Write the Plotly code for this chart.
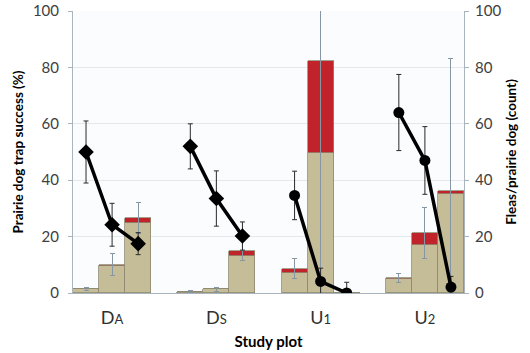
import plotly.graph_objects as go

# ---- data ----
plots = ["D<sub>A</sub>", "D<sub>S</sub>", "U<sub>1</sub>", "U<sub>2</sub>"]
plot_tick_labels = ["D<span style='font-size:13px'>A</span>", "D<span style='font-size:13px'>S</span>",
                    "U<span style='font-size:13px'>1</span>", "U<span style='font-size:13px'>2</span>"]
# slots: 3 time periods per plot, with a blank slot between plots
bar_slots = [0, 1, 2, 4, 5, 6, 8, 9, 10, 12, 13, 14]
label_slots = [1, 5, 9, 13]

# fleas per prairie dog (count): tan part and red part (stacked), error on total
fleas_tan = [1.3, 9.5, 24.9, 0.5, 1.3, 13.0, 7.2, 49.5, 0.0, 5.0, 17.2, 35.2]
fleas_red = [0.0, 0.6, 1.8, 0.0, 0.0, 2.0, 1.4, 32.7, 0.0, 0.3, 4.2, 1.0]
fleas_err = [0.5, 4.0, 5.5, 0.3, 0.6, 3.5, 3.6, 95.0, 0.0, 1.5, 9.0, 47.0]

# prairie dog trap success (%)
trap_DA = [50.0, 24.2, 17.5]
trap_DA_err = [11.0, 7.6, 3.9]
trap_DS = [52.0, 33.5, 20.2]
trap_DS_err = [8.0, 9.8, 5.0]
trap_U1 = [34.6, 4.1, 0.0]
trap_U1_err = [8.6, 4.7, 3.8]
trap_U2 = [64.0, 47.0, 2.1]
trap_U2_err = [13.5, 12.0, 3.8]

trap_series = [trap_DA, trap_DS, trap_U1, trap_U2]
trap_errs = [trap_DA_err, trap_DS_err, trap_U1_err, trap_U2_err]
markers = ["diamond", "diamond", "circle", "circle"]

TAN = "#C4BD97"
RED = "#C1232B"
font_family = "Lato, 'Open Sans', sans-serif"

fig = go.Figure()

fig.add_trace(go.Bar(
    x=bar_slots, y=fleas_tan, width=1, marker=dict(color=TAN, line=dict(color="#8f8a72", width=0.8)),
    yaxis="y", showlegend=False, name="Fleas"))
fig.add_trace(go.Bar(
    x=bar_slots, y=fleas_red, width=1, marker=dict(color=RED, line=dict(color="#8f8a72", width=0.8)),
    error_y=dict(type="data", array=fleas_err, color="#8796a3", thickness=1, width=2.5),
    yaxis="y", showlegend=False, name="Fleas (red)"))

for i, (vals, errs) in enumerate(zip(trap_series, trap_errs)):
    xs = bar_slots[3 * i:3 * i + 3]
    fig.add_trace(go.Scatter(
        x=xs, y=vals, mode="lines+markers", yaxis="y2", showlegend=False,
        line=dict(color="black", width=3.5),
        marker=dict(symbol=markers[i], size=12 if markers[i] == "diamond" else 11, color="black"),
        error_y=dict(type="data", array=errs, color="#2a2a2a", thickness=1, width=2.5),
        name=plots[i]))

fig.update_layout(
    width=530, height=353,
    margin=dict(l=73, r=66, t=11, b=60, autoexpand=False),
    barmode="stack", bargap=0,
    paper_bgcolor="white", plot_bgcolor="#fbfcfe",
    font=dict(family=font_family, size=15, color="#404040"),
    xaxis=dict(
        range=[-0.5, 14.5], tickmode="array", tickvals=label_slots, ticktext=plot_tick_labels,
        tickfont=dict(size=18, color="#303030"), showgrid=False, zeroline=False,
        showline=True, linecolor="#a9b4bd", linewidth=1, ticks="", automargin=False,
        ticklabelstandoff=8,
        title=dict(text="<b>Study plot</b>", font=dict(size=15, color="black"), standoff=9),
    ),
    yaxis=dict(
        side="right", range=[0, 100], tickvals=[0, 20, 40, 60, 80, 100],
        showgrid=True, gridcolor="#e4e7eb", zeroline=False, automargin=False,
        showline=True, linecolor="#a9b4bd", linewidth=1, ticks="outside", ticklen=4, tickcolor="#a9b4bd",
        ticklabelstandoff=3,
        title=dict(text="<b>Fleas/prairie dog (count)</b>", font=dict(size=13.5, color="black"), standoff=6),
    ),
    yaxis2=dict(
        side="left", overlaying="y", range=[0, 100], tickvals=[0, 20, 40, 60, 80, 100],
        showgrid=False, zeroline=False, automargin=False,
        showline=True, linecolor="#a9b4bd", linewidth=1, ticks="outside", ticklen=4, tickcolor="#a9b4bd",
        ticklabelstandoff=6,
        title=dict(text="<b>Prairie dog trap success (%)</b>", font=dict(size=13.5, color="black"), standoff=6),
    ),
)

fig.write_html("out.html", config={"displayModeBar": False},
               post_script="document.body.style.margin='0px';")
